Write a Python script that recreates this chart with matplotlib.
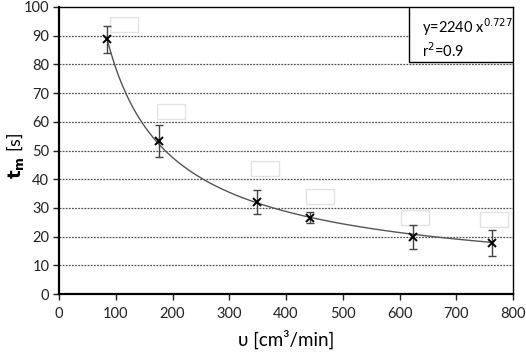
import matplotlib
matplotlib.use('Agg')
import matplotlib.pyplot as plt
import matplotlib.transforms as mtransforms
from matplotlib.patches import Rectangle
import numpy as np

plt.rcParams['font.family'] = ['Lato', 'DejaVu Sans']
plt.rcParams['mathtext.fontset'] = 'dejavusans'

# data
flow = [85, 176, 349, 442, 624, 763]
t_m = [88.7, 53.3, 32.0, 26.6, 20.0, 17.9]
t_err = [4.7, 5.7, 4.2, 2.0, 4.2, 4.5]

# trendline as given in the chart (power fit)
fit_a = 2240
fit_b = -0.727
fit_text = 'y=2240 x$^{0.727}$\nr$^2$=0.9'

xticks = [0, 100, 200, 300, 400, 500, 600, 700, 800]
yticks = [0, 10, 20, 30, 40, 50, 60, 70, 80, 90, 100]

# empty data-label boxes, offsets in px from each point (left, top)
box_off = [(3, -22), (-2, -37), (-6, -41), (-4, -29), (-12, -27), (-12, -31)]

fig = plt.figure(figsize=(5.26, 3.56), dpi=100)
ax = fig.add_axes([59/526, 1-294/356, 454/526, 287/356])

for y in yticks[1:-1]:
    ax.axhline(y, color='#555555', lw=0.9, ls=(0, (1.5, 1)), zorder=1)

xs = np.linspace(flow[0], flow[-1], 200)
ax.plot(xs, fit_a * xs ** fit_b, color='#555555', lw=1.0, zorder=2)

ax.errorbar(flow, t_m, yerr=t_err, fmt='none', ecolor='#444444', elinewidth=1.0,
            capsize=3, capthick=1.0, zorder=3)
ax.plot(flow, t_m, 'x', color='black', ms=6, mew=1.4, zorder=4)

# faint empty label boxes
w_data = 28 / (454 / 800)
h_data = 15 / (287 / 100)
for (x, y), (dx, dy) in zip(zip(flow, t_m), box_off):
    tr = ax.transData + mtransforms.ScaledTranslation(dx / 100, -(dy + 15) / 100, fig.dpi_scale_trans)
    ax.add_patch(Rectangle((x, y), w_data, h_data, transform=tr, fill=False,
                           edgecolor='#e2e2e2', lw=1.0, zorder=1))

ax.set_xlim(0, 800)
ax.set_ylim(0, 100)
ax.set_xticks(xticks)
ax.set_yticks(yticks)
ax.tick_params(direction='out', length=4, width=1.0, labelsize=10.5, colors='#222222',
               pad=3)
ax.tick_params(axis='x', pad=5)
for s in ['left', 'bottom']:
    ax.spines[s].set_linewidth(1.6)
for s in ['top', 'right']:
    ax.spines[s].set_linewidth(1.0)

ax.set_xlabel('υ [cm³/min]', fontsize=13.5, labelpad=7)
ax.set_ylabel(r'$\mathbf{t_m}$ [s]', fontsize=13)
ax.yaxis.set_label_coords(-33/454, 0.48)

ax.text(363/454, 1 - 9/287, fit_text, transform=ax.transAxes, fontsize=10.5, va='top',
        ha='left', linespacing=1.25, zorder=6)
ax.add_patch(Rectangle((350/454, 1 - 55/287), 104/454, 55/287, transform=ax.transAxes,
                       fill=True, facecolor='white', edgecolor='black', lw=1.0, zorder=5))

fig.savefig('out.png', dpi=100)
